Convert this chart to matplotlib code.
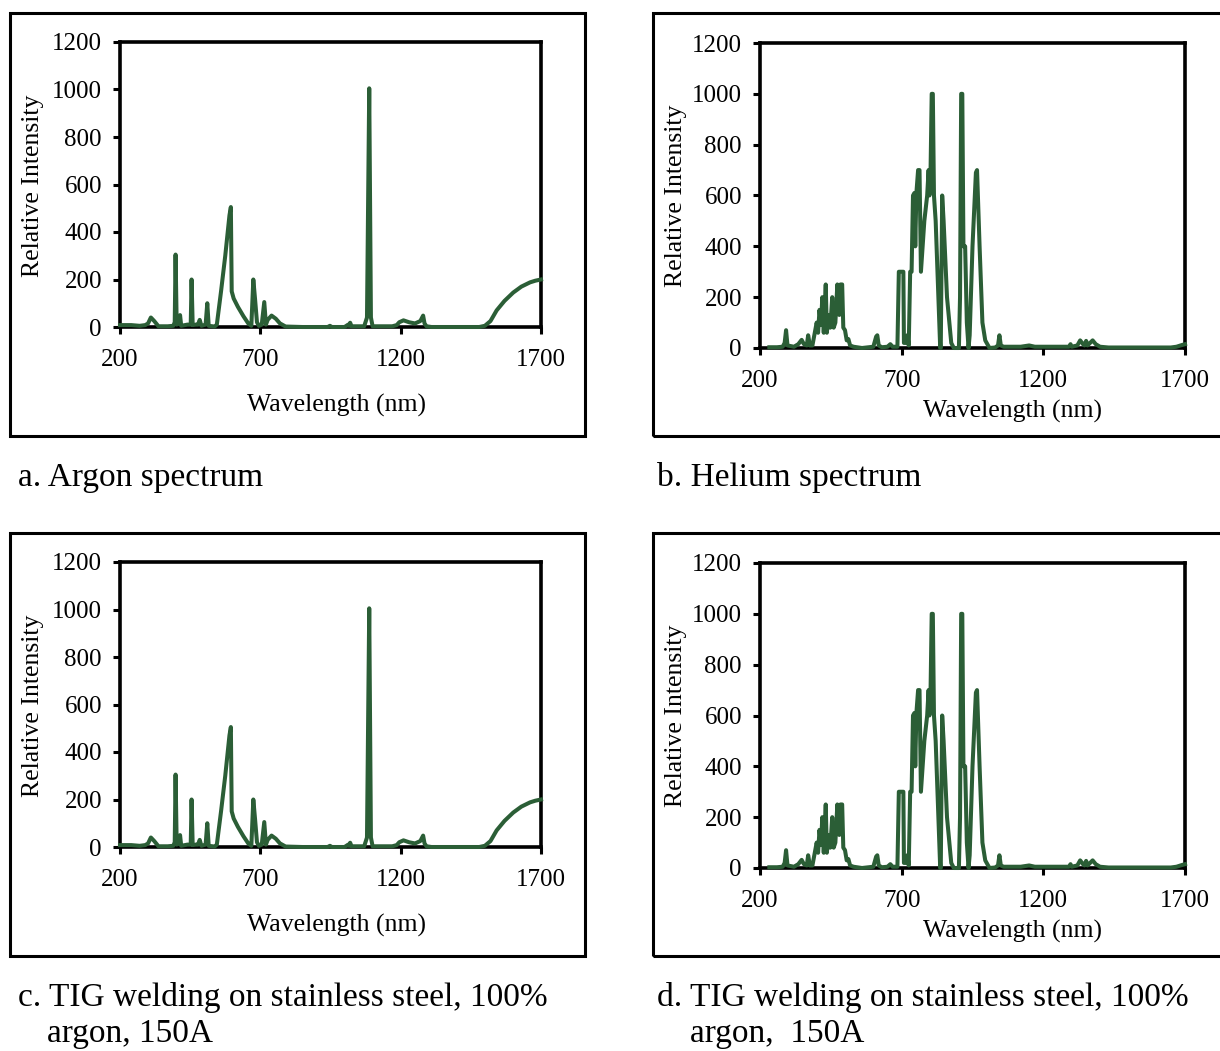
import matplotlib.pyplot as plt
from matplotlib.patches import Rectangle

# ===== DATA =====
# argon spectrum (panels a and c), wavelength nm / relative intensity
ar_nm = [200, 240, 270, 290, 300, 310, 322, 337, 370, 390, 395, 398, 402, 410, 414, 418,
         440, 452, 455, 459, 470, 478, 484, 490, 505, 511, 516, 537, 545, 560, 575, 590,
         595, 598, 605, 620, 640, 657, 668, 675, 681, 688, 695, 705, 714, 720, 726, 740,
         755, 770, 790, 850, 940, 948, 955, 1000, 1013, 1016, 1020, 1025, 1070, 1080, 1088,
         1094, 1100, 1170, 1186, 1195, 1210, 1230, 1251, 1270, 1280, 1285, 1292, 1310, 1480,
         1500, 1520, 1542, 1570, 1601, 1630, 1661, 1680, 1700]
ar_int = [8, 8, 5, 8, 15, 40, 25, 3, 3, 5, 20, 305, 10, 15, 50, 5,
          10, 10, 200, 8, 10, 10, 30, 5, 10, 100, 5, 2, 10, 150, 300, 470,
          505, 150, 120, 85, 45, 15, 5, 200, 120, 20, 5, 10, 105, 10, 30, 48,
          35, 15, 2, 0, 0, 5, 0, 0, 10, 5, 18, 3, 3, 40, 1005,
          40, 3, 3, 8, 20, 28, 20, 15, 25, 48, 15, 3, 0, 0,
          5, 25, 70, 110, 145, 170, 188, 195, 200]

# helium spectrum (panels b and d)
he_nm = [233, 260, 280, 287, 292, 297, 320, 335, 347, 355, 365, 370, 376, 385, 395, 400,
         405, 410, 415, 420, 425, 432, 436, 441, 448, 455, 460, 466, 473, 480, 484, 490,
         494, 500, 506, 512, 518, 530, 560, 600, 610, 614, 619, 630, 650, 660, 668, 685,
         690, 706, 708, 716, 720, 725, 730, 735, 740, 745, 748, 752, 758, 763, 768, 780,
         790, 795, 798, 802, 806, 810, 814, 820, 836, 838, 843, 848, 860, 875, 884, 902,
         906, 910, 914, 918, 924, 930, 936, 940, 950, 962, 966, 975, 985, 995, 1010, 1030,
         1040, 1045, 1050, 1060, 1120, 1150, 1170, 1250, 1290, 1296, 1300, 1320, 1330, 1340,
         1345, 1351, 1356, 1365, 1374, 1385, 1400, 1430, 1650, 1670, 1690, 1700]
he_int = [3, 3, 5, 20, 70, 10, 5, 15, 32, 15, 10, 50, 10, 10, 70, 100,
          60, 150, 90, 200, 60, 250, 60, 130, 80, 200, 80, 100, 250, 130, 250, 250,
          80, 70, 30, 35, 10, 5, 0, 5, 45, 50, 10, 3, 5, 15, 5, 5,
          300, 300, 20, 20, 50, 10, 300, 300, 600, 610, 400, 610, 700, 700, 300, 500,
          600, 700, 600, 700, 1000, 1000, 600, 500, 0, 0, 600, 500, 200, 20, 0, 0,
          200, 1000, 1000, 400, 400, 100, 0, 50, 400, 690, 700, 400, 100, 30, 0, 2,
          10, 50, 10, 5, 5, 10, 5, 5, 5, 15, 5, 10, 30, 15,
          10, 28, 10, 20, 30, 15, 5, 2, 2, 5, 12, 15]

x_ticks = [200, 700, 1200, 1700]
y_ticks = [0, 200, 400, 600, 800, 1000, 1200]
x_label = "Wavelength (nm)"
y_label = "Relative Intensity"
captions_top = ["a. Argon spectrum", "b. Helium spectrum"]
captions_c = ["c. TIG welding on stainless steel, 100%", "argon, 150A"]
captions_d = ["d. TIG welding on stainless steel, 100%", "argon,  150A"]

LINE_COLOR = "#2b5e36"
plt.rcParams['font.family'] = ['Liberation Serif', 'DejaVu Serif']

fig = plt.figure(figsize=(12.2, 10.51), dpi=100)
W, H = 1220.0, 1051.0


def px_box(left, top, right, bottom):
    """pixel box -> figure fraction [l, b, w, h]"""
    return [left / W, 1 - bottom / H, (right - left) / W, (bottom - top) / H]


def frame(left, top, right, bottom):
    l, b, w, h = px_box(left, top, right, bottom)
    fig.patches.append(Rectangle((l, b), w, h, transform=fig.transFigure,
                                 fill=False, edgecolor='black', linewidth=2.2))


def spectrum(box, nm, inten, xl_pos, yl_pos):
    ax = fig.add_axes(px_box(*box))
    ax.plot(nm, inten, color=LINE_COLOR, linewidth=2.9, zorder=3, clip_on=False,
            solid_joinstyle='round')
    ax.set_xlim(200, 1700)
    ax.set_ylim(0, 1200)
    ax.set_xticks(x_ticks)
    ax.set_yticks(y_ticks)
    ax.tick_params(direction='out', length=5, width=2.2, labelsize=18)
    ax.tick_params(axis='x', pad=11)
    ax.tick_params(axis='y', pad=8)
    for s in ax.spines.values():
        s.set_linewidth(2.6)
        s.set_zorder(2)
    ax.text(xl_pos[0], xl_pos[1], x_label, transform=ax.transAxes, fontsize=18.5,
            ha='center', va='center')
    ax.text(yl_pos[0], yl_pos[1], y_label, transform=ax.transAxes, fontsize=18.5,
            ha='center', va='center', rotation=90)
    return ax


def caption(x, y, txt):
    fig.text(x / W, 1 - y / H, txt, fontsize=24, va='baseline')


# frames around each chart
frame(10, 13, 585, 436)
frame(653, 13, 1240, 436)
frame(10, 533, 585, 956)
frame(653, 533, 1240, 956)

spectrum((120, 42, 541, 327), ar_nm, ar_int, (0.515, -0.274), (-0.207, 0.495))
spectrum((760, 43, 1185, 348), he_nm, he_int, (0.593, -0.207), (-0.198, 0.498))
spectrum((120, 562, 541, 847), ar_nm, ar_int, (0.515, -0.274), (-0.207, 0.495))
spectrum((760, 563, 1185, 868), he_nm, he_int, (0.593, -0.207), (-0.198, 0.498))

# captions
caption(18, 486, captions_top[0])
caption(657, 486, captions_top[1])
caption(18, 1006, captions_c[0])
caption(47, 1042, captions_c[1])
caption(657, 1006, captions_d[0])
caption(690, 1042, captions_d[1])

fig.savefig("out.png", dpi=100)
